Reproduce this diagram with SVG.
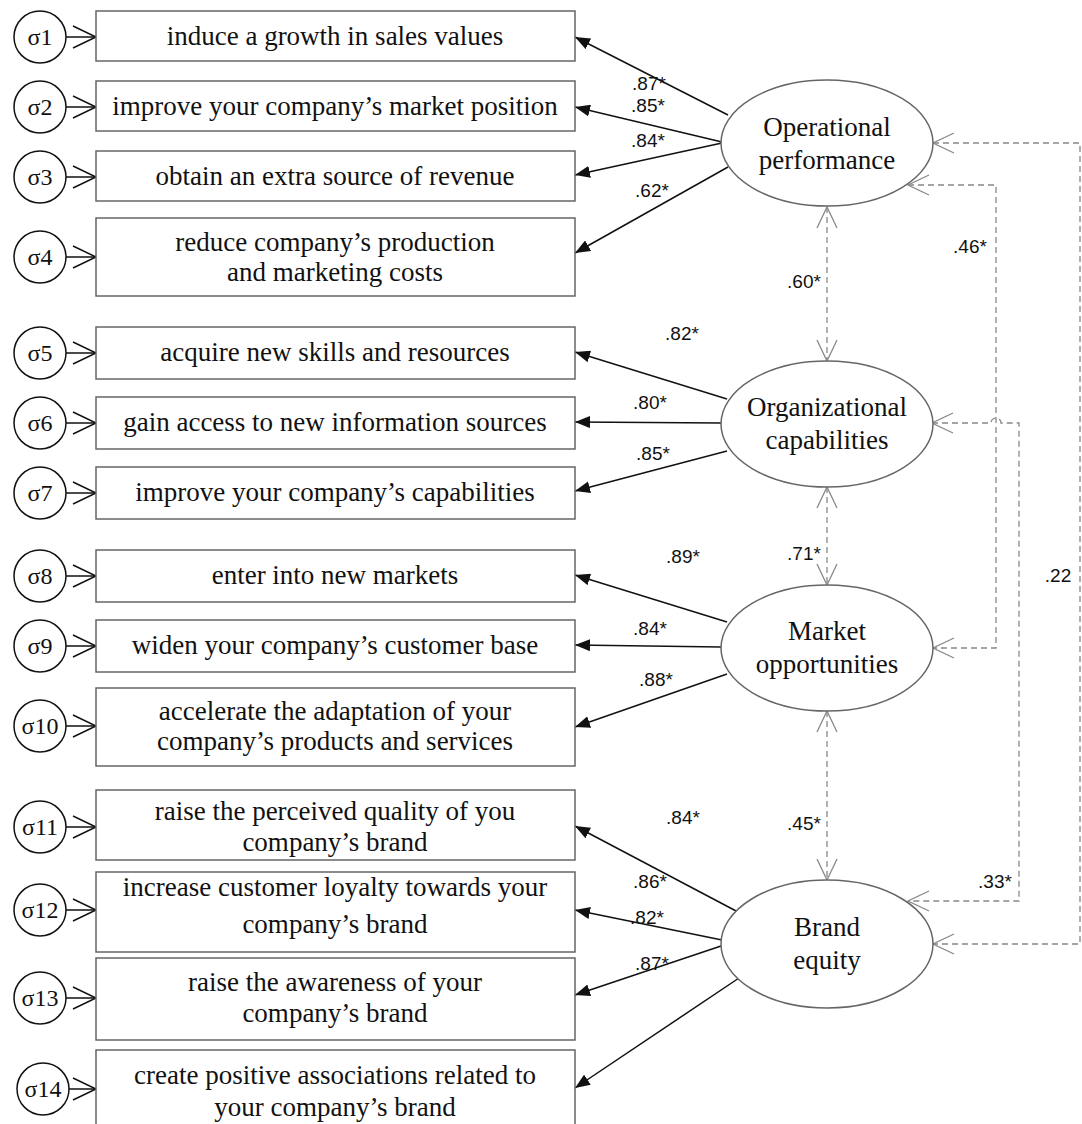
<svg xmlns="http://www.w3.org/2000/svg" width="1082" height="1124" viewBox="0 0 1082 1124">
<defs>
<style>
.box{fill:#fff;stroke:#666;stroke-width:1.5}
.err{fill:#fff;stroke:#111;stroke-width:1.5}
.lat{fill:#fff;stroke:#666;stroke-width:1.5}
.t{font-family:"Liberation Serif","Times New Roman",serif;font-size:27px;fill:#111;text-anchor:middle}
.et{font-family:"Liberation Serif","Times New Roman",serif;font-size:24px;fill:#111;text-anchor:middle}
.c{font-family:"Liberation Sans",Arial,sans-serif;font-size:19px;fill:#111;text-anchor:middle}
.load{stroke:#111;stroke-width:1.5;fill:none;marker-end:url(#fa)}
.eline{stroke:#111;stroke-width:1.5;fill:none;marker-end:url(#va)}
.cor{stroke:#888;stroke-width:1.3;fill:none;stroke-dasharray:6 4;marker-start:url(#ga);marker-end:url(#ga)}
</style>
<marker id="fa" markerUnits="userSpaceOnUse" markerWidth="16" markerHeight="12" refX="15" refY="6" orient="auto"><path d="M0,0 L15,6 L0,12 z" fill="#111"/></marker>
<marker id="va" markerUnits="userSpaceOnUse" markerWidth="26" markerHeight="26" refX="24" refY="12" orient="auto"><path d="M1,1 L24,12 L1,23" fill="none" stroke="#111" stroke-width="1.5"/></marker>
<marker id="ga" markerUnits="userSpaceOnUse" markerWidth="24" markerHeight="24" refX="22" refY="11" orient="auto-start-reverse"><path d="M1,1 L22,11 L1,21" fill="none" stroke="#888" stroke-width="1.3"/></marker>
</defs>
<rect width="1082" height="1124" fill="#fff"/>

<g id="connectors">
<line class="eline" x1="66" y1="37" x2="96" y2="37"/>
<line class="eline" x1="66" y1="107" x2="96" y2="107"/>
<line class="eline" x1="66" y1="177" x2="96" y2="177"/>
<line class="eline" x1="66" y1="257" x2="96" y2="257"/>
<line class="eline" x1="66" y1="353" x2="96" y2="353"/>
<line class="eline" x1="66" y1="423" x2="96" y2="423"/>
<line class="eline" x1="66" y1="493" x2="96" y2="493"/>
<line class="eline" x1="66" y1="576" x2="96" y2="576"/>
<line class="eline" x1="66" y1="646" x2="96" y2="646"/>
<line class="eline" x1="66" y1="726" x2="96" y2="726"/>
<line class="eline" x1="66" y1="827" x2="96" y2="827"/>
<line class="eline" x1="66" y1="910" x2="96" y2="910"/>
<line class="eline" x1="66" y1="998" x2="96" y2="998"/>
<line class="eline" x1="69" y1="1089" x2="96" y2="1089"/>

<line class="load" x1="728" y1="115" x2="575" y2="37"/>
<line class="load" x1="722" y1="142" x2="575" y2="107"/>
<line class="load" x1="722" y1="143" x2="575" y2="175"/>
<line class="load" x1="728" y1="167" x2="575" y2="253"/>
<line class="load" x1="727" y1="399" x2="575" y2="352"/>
<line class="load" x1="721" y1="423" x2="575" y2="422"/>
<line class="load" x1="727" y1="451" x2="575" y2="491"/>
<line class="load" x1="727" y1="622" x2="575" y2="575"/>
<line class="load" x1="721" y1="647" x2="575" y2="645"/>
<line class="load" x1="727" y1="674" x2="575" y2="727"/>
<line class="load" x1="738" y1="912" x2="575" y2="826"/>
<line class="load" x1="722" y1="940" x2="575" y2="910"/>
<line class="load" x1="721" y1="946" x2="575" y2="995"/>
<line class="load" x1="742" y1="976" x2="575" y2="1088"/>

<line class="cor" x1="827" y1="207" x2="827" y2="361"/>
<line class="cor" x1="827" y1="487" x2="827" y2="585"/>
<line class="cor" x1="827" y1="711" x2="827" y2="880"/>
<path class="cor" d="M908,185 L996,185 L996,648 L933,648"/>
<path class="cor" d="M932,423 L991,423 A5,5 0 0 1 1001,423 L1019,423 L1019,901 L908,901"/>
<path class="cor" d="M933,143 L1080,143 L1080,944 L933,944"/>

<text class="c" x="649" y="90">.87*</text>
<text class="c" x="648" y="112">.85*</text>
<text class="c" x="648" y="147">.84*</text>
<text class="c" x="652" y="197">.62*</text>
<text class="c" x="682" y="340">.82*</text>
<text class="c" x="650" y="409">.80*</text>
<text class="c" x="653" y="460">.85*</text>
<text class="c" x="683" y="563">.89*</text>
<text class="c" x="650" y="635">.84*</text>
<text class="c" x="656" y="686">.88*</text>
<text class="c" x="683" y="824">.84*</text>
<text class="c" x="650" y="888">.86*</text>
<text class="c" x="647" y="924">.82*</text>
<text class="c" x="652" y="970">.87*</text>
<text class="c" x="804" y="288">.60*</text>
<text class="c" x="804" y="560">.71*</text>
<text class="c" x="804" y="830">.45*</text>
<text class="c" x="970" y="253">.46*</text>
<text class="c" x="995" y="888">.33*</text>
<text class="c" x="1058" y="582">.22</text>
</g>

<g id="e1"><circle class="err" cx="40" cy="37" r="26"/><text class="et" x="40" y="45">σ1</text></g>
<g id="e2"><circle class="err" cx="40" cy="107" r="26"/><text class="et" x="40" y="115">σ2</text></g>
<g id="e3"><circle class="err" cx="40" cy="177" r="26"/><text class="et" x="40" y="185">σ3</text></g>
<g id="e4"><circle class="err" cx="40" cy="257" r="26"/><text class="et" x="40" y="265">σ4</text></g>
<g id="e5"><circle class="err" cx="40" cy="353" r="26"/><text class="et" x="40" y="361">σ5</text></g>
<g id="e6"><circle class="err" cx="40" cy="423" r="26"/><text class="et" x="40" y="431">σ6</text></g>
<g id="e7"><circle class="err" cx="40" cy="493" r="26"/><text class="et" x="40" y="501">σ7</text></g>
<g id="e8"><circle class="err" cx="40" cy="576" r="26"/><text class="et" x="40" y="584">σ8</text></g>
<g id="e9"><circle class="err" cx="40" cy="646" r="26"/><text class="et" x="40" y="654">σ9</text></g>
<g id="e10"><circle class="err" cx="40" cy="726" r="26"/><text class="et" x="40" y="734">σ10</text></g>
<g id="e11"><circle class="err" cx="40" cy="827" r="26"/><text class="et" x="40" y="835">σ11</text></g>
<g id="e12"><circle class="err" cx="40" cy="910" r="26"/><text class="et" x="40" y="918">σ12</text></g>
<g id="e13"><circle class="err" cx="40" cy="998" r="26"/><text class="et" x="40" y="1006">σ13</text></g>
<g id="e14"><circle class="err" cx="43" cy="1089" r="26"/><text class="et" x="43" y="1097">σ14</text></g>

<g id="i1"><rect class="box" x="96" y="11" width="479" height="50"/><text class="t" x="335" y="45">induce a growth in sales values</text></g>
<g id="i2"><rect class="box" x="96" y="81" width="479" height="50"/><text class="t" x="335" y="115">improve your company’s market position</text></g>
<g id="i3"><rect class="box" x="96" y="151" width="479" height="50"/><text class="t" x="335" y="185">obtain an extra source of revenue</text></g>
<g id="i4"><rect class="box" x="96" y="218" width="479" height="78"/><text class="t" x="335" y="251">reduce company’s production</text><text class="t" x="335" y="281">and marketing costs</text></g>
<g id="i5"><rect class="box" x="96" y="327" width="479" height="52"/><text class="t" x="335" y="361">acquire new skills and resources</text></g>
<g id="i6"><rect class="box" x="96" y="397" width="479" height="52"/><text class="t" x="335" y="431">gain access to new information sources</text></g>
<g id="i7"><rect class="box" x="96" y="467" width="479" height="52"/><text class="t" x="335" y="501">improve your company’s capabilities</text></g>
<g id="i8"><rect class="box" x="96" y="550" width="479" height="52"/><text class="t" x="335" y="584">enter into new markets</text></g>
<g id="i9"><rect class="box" x="96" y="620" width="479" height="52"/><text class="t" x="335" y="654">widen your company’s customer base</text></g>
<g id="i10"><rect class="box" x="96" y="688" width="479" height="78"/><text class="t" x="335" y="720">accelerate the adaptation of your</text><text class="t" x="335" y="750">company’s products and services</text></g>
<g id="i11"><rect class="box" x="96" y="790" width="479" height="70"/><text class="t" x="335" y="820">raise the perceived quality of you</text><text class="t" x="335" y="851">company’s brand</text></g>
<g id="i12"><rect class="box" x="96" y="872" width="479" height="80"/><text class="t" x="335" y="896">increase customer loyalty towards your</text><text class="t" x="335" y="933">company’s brand</text></g>
<g id="i13"><rect class="box" x="96" y="958" width="479" height="82"/><text class="t" x="335" y="991">raise the awareness of your</text><text class="t" x="335" y="1022">company’s brand</text></g>
<g id="i14"><rect class="box" x="96" y="1050" width="479" height="80"/><text class="t" x="335" y="1084">create positive associations related to</text><text class="t" x="335" y="1116">your company’s brand</text></g>

<g id="op"><ellipse class="lat" cx="827" cy="143" rx="106" ry="63"/><text class="t" x="827" y="136">Operational</text><text class="t" x="827" y="169">performance</text></g>
<g id="oc"><ellipse class="lat" cx="827" cy="424" rx="106" ry="63"/><text class="t" x="827" y="416">Organizational</text><text class="t" x="827" y="449">capabilities</text></g>
<g id="mo"><ellipse class="lat" cx="827" cy="648" rx="106" ry="63"/><text class="t" x="827" y="640">Market</text><text class="t" x="827" y="673">opportunities</text></g>
<g id="be"><ellipse class="lat" cx="827" cy="944" rx="106" ry="64"/><text class="t" x="827" y="936">Brand</text><text class="t" x="827" y="969">equity</text></g>
</svg>
